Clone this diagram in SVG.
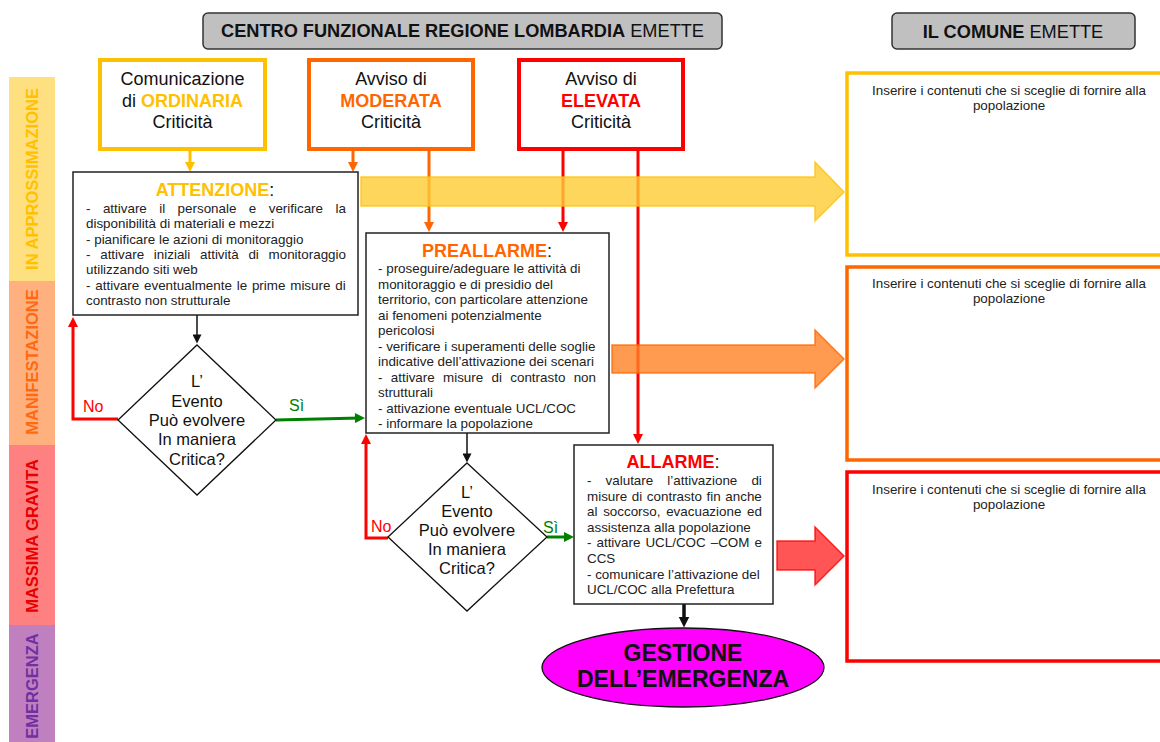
<svg xmlns="http://www.w3.org/2000/svg" width="1160" height="742" viewBox="0 0 1160 742">
<defs>
<style>
text{font-family:"Liberation Sans",Arial,sans-serif;}
.hdr{fill:#C0C0C0;stroke:#333;stroke-width:1.5;}
.ht{font-size:18.2px;fill:#111;}
.b{font-weight:bold;}
.src{fill:#fff;stroke-width:4;}
.st{font-size:18px;text-anchor:middle;}
.box{fill:#fff;stroke:#222;stroke-width:1.5;}
.tt{font-size:18px;font-weight:bold;}
.bd{font-size:13.4px;fill:#222;}
.dia{fill:#fff;stroke:#111;stroke-width:1.3;}
.dt{font-size:16.5px;fill:#111;text-anchor:middle;}
.out{fill:#fff;stroke-width:3.5;}
.ot{font-size:13.4px;fill:#222;text-anchor:middle;}
.band{font-size:16.5px;font-weight:bold;text-anchor:middle;}
.lbl{font-size:16px;}
.ln{fill:none;stroke-width:3;}
</style>
<marker id="mY" viewBox="0 0 10 10" refX="5" refY="5" markerWidth="11" markerHeight="10" markerUnits="userSpaceOnUse" orient="auto"><path d="M0,0 L10,5 L0,10 z" fill="#FFC000"/></marker>
<marker id="mO" viewBox="0 0 10 10" refX="5" refY="5" markerWidth="11" markerHeight="10" markerUnits="userSpaceOnUse" orient="auto"><path d="M0,0 L10,5 L0,10 z" fill="#FF6600"/></marker>
<marker id="mR" viewBox="0 0 10 10" refX="5" refY="5" markerWidth="11" markerHeight="10" markerUnits="userSpaceOnUse" orient="auto"><path d="M0,0 L10,5 L0,10 z" fill="#FF0000"/></marker>
<marker id="mG" viewBox="0 0 10 10" refX="5" refY="5" markerWidth="11" markerHeight="10" markerUnits="userSpaceOnUse" orient="auto"><path d="M0,0 L10,5 L0,10 z" fill="#008000"/></marker>
<marker id="mK" viewBox="0 0 10 10" refX="5" refY="5" markerWidth="10" markerHeight="9" markerUnits="userSpaceOnUse" orient="auto"><path d="M0,0 L10,5 L0,10 z" fill="#111"/></marker>
<marker id="mK2" viewBox="0 0 10 10" refX="5" refY="5" markerWidth="11" markerHeight="12" markerUnits="userSpaceOnUse" orient="auto"><path d="M0,0 L10,5 L0,10 z" fill="#111"/></marker>
</defs>
<rect width="1160" height="742" fill="#fff"/>

<g id="phases">
<rect x="9" y="77" width="46" height="204" fill="#FFE080"/>
<rect x="9" y="281" width="46" height="164" fill="#FFB07F"/>
<rect x="9" y="445" width="46" height="180" fill="#FF8080"/>
<rect x="9" y="625" width="46" height="117" fill="#C080C0"/>
<text class="band" x="38" y="179" transform="rotate(-90 38 179)" fill="#FFC000">IN APPROSSIMAZIONE</text>
<text class="band" x="38" y="362" transform="rotate(-90 38 362)" fill="#FF6A10">MANIFESTAZIONE</text>
<text class="band" x="38" y="536" transform="rotate(-90 38 536)" fill="#E60000">MASSIMA GRAVITA</text>
<text class="band" x="38" y="686" transform="rotate(-90 38 686)" fill="#7030A0">EMERGENZA</text>
</g>

<g id="header-regione">
<rect class="hdr" x="203" y="13" width="519" height="36" rx="5"/>
<text class="ht" x="462.5" y="37" text-anchor="middle"><tspan class="b">CENTRO FUNZIONALE REGIONE LOMBARDIA</tspan> EMETTE</text>
</g>
<g id="header-comune">
<rect class="hdr" x="892" y="13" width="243" height="36" rx="5"/>
<text class="ht" x="1013" y="38" text-anchor="middle"><tspan class="b">IL COMUNE</tspan> EMETTE</text>
</g>

<g id="connectors">
<line class="ln" x1="190" y1="151" x2="190" y2="167" stroke="#FFC000" marker-end="url(#mY)"/>
<line class="ln" x1="353" y1="151" x2="353" y2="167" stroke="#FF6600" marker-end="url(#mO)"/>
<line class="ln" x1="429" y1="151" x2="429" y2="227" stroke="#FF6600" marker-end="url(#mO)"/>
<line class="ln" x1="563" y1="151" x2="563" y2="227" stroke="#FF0000" marker-end="url(#mR)"/>
<line class="ln" x1="638" y1="151" x2="638" y2="439" stroke="#FF0000" marker-end="url(#mR)"/>
<line x1="197" y1="315" x2="197" y2="339" stroke="#111" stroke-width="1.5" marker-end="url(#mK)"/>
<path d="M118,419 H73 V322" class="ln" stroke="#FF0000" stroke-width="2.5" marker-end="url(#mR)"/>
<path d="M276,420 L360,418" class="ln" stroke="#008000" stroke-width="2.5" marker-end="url(#mG)"/>
<line x1="467" y1="433" x2="467" y2="458" stroke="#111" stroke-width="1.5" marker-end="url(#mK)"/>
<path d="M388,538 H366 V439" class="ln" stroke="#FF0000" stroke-width="2.5" marker-end="url(#mR)"/>
<path d="M547,537 L569,537" class="ln" stroke="#008000" stroke-width="2.5" marker-end="url(#mG)"/>
<line x1="684" y1="604" x2="684" y2="622" stroke="#111" stroke-width="3.5" marker-end="url(#mK2)"/>
<text class="lbl" x="83" y="412" fill="#FF0000">No</text>
<text class="lbl" x="289" y="411" fill="#008000">Sì</text>
<text class="lbl" x="371" y="532" fill="#FF0000">No</text>
<text class="lbl" x="543" y="533" fill="#008000">Sì</text>
<path d="M361,177 H815 V162 L844,192 L815,221 V206 H361 Z" fill="#FFCC33" fill-opacity="0.8" stroke="#FFC000" stroke-width="1.5" stroke-opacity="0.8"/>
<path d="M612,345 H815 V330 L844,359 L815,388 V373 H612 Z" fill="#FF8224" fill-opacity="0.8" stroke="#FF6600" stroke-width="1.5" stroke-opacity="0.8"/>
<path d="M777,541 H815 V527 L844,556 L815,585 V570 H777 Z" fill="#FF2A2A" fill-opacity="0.8" stroke="#FF0000" stroke-width="1.5" stroke-opacity="0.8"/>
</g>

<g id="ordinaria">
<rect class="src" x="100" y="60" width="165" height="89" stroke="#FFC000"/>
<text class="st" x="182.5" y="85" fill="#111">Comunicazione</text>
<text class="st" x="182.5" y="107" fill="#111">di <tspan class="b" fill="#FFC000">ORDINARIA</tspan></text>
<text class="st" x="182.5" y="128" fill="#111">Criticità</text>
</g>
<g id="moderata">
<rect class="src" x="309" y="60" width="164" height="89" stroke="#FF6600"/>
<text class="st" x="391" y="85" fill="#111">Avviso di</text>
<text class="st b" x="391" y="107" fill="#FF6600">MODERATA</text>
<text class="st" x="391" y="128" fill="#111">Criticità</text>
</g>
<g id="elevata">
<rect class="src" x="519" y="60" width="164" height="89" stroke="#FF0000"/>
<text class="st" x="601" y="85" fill="#111">Avviso di</text>
<text class="st b" x="601" y="107" fill="#FF0000">ELEVATA</text>
<text class="st" x="601" y="128" fill="#111">Criticità</text>
</g>

<g id="attenzione">
<rect class="box" x="73" y="172" width="285" height="143"/>
<text x="215" y="195.5" text-anchor="middle"><tspan class="tt" fill="#FFC000">ATTENZIONE</tspan><tspan font-size="18px" fill="#111">:</tspan></text>
<text class="bd" x="86" y="213" word-spacing="8.7">- attivare il personale e verificare la</text>
<text class="bd" x="86" y="228">disponibilità di materiali e mezzi</text>
<text class="bd" x="86" y="243.5">- pianificare le azioni di monitoraggio</text>
<text class="bd" x="86" y="259" word-spacing="6">- attivare iniziali attività di monitoraggio</text>
<text class="bd" x="86" y="274">utilizzando siti web</text>
<text class="bd" x="86" y="289.5" word-spacing="1.1">- attivare eventualmente le prime misure di</text>
<text class="bd" x="86" y="304.5">contrasto non strutturale</text>
</g>

<g id="decisione1">
<polygon class="dia" points="197,345 276,420 197,495 118,420"/>
<text class="dt" x="197" y="387">L’</text>
<text class="dt" x="197" y="407">Evento</text>
<text class="dt" x="197" y="426">Può evolvere</text>
<text class="dt" x="197" y="445">In maniera</text>
<text class="dt" x="197" y="465">Critica?</text>
</g>

<g id="preallarme">
<rect class="box" x="366" y="233" width="243" height="200"/>
<text x="487" y="256.5" text-anchor="middle"><tspan class="tt" fill="#FF6600">PREALLARME</tspan><tspan font-size="18px" fill="#111">:</tspan></text>
<text class="bd" x="378" y="273">- proseguire/adeguare le attività di</text>
<text class="bd" x="378" y="288.5">monitoraggio e di presidio del</text>
<text class="bd" x="378" y="304">territorio, con particolare attenzione</text>
<text class="bd" x="378" y="319.5">ai fenomeni potenzialmente</text>
<text class="bd" x="378" y="335">pericolosi</text>
<text class="bd" x="378" y="350.5">- verificare i superamenti delle soglie</text>
<text class="bd" x="378" y="366">indicative dell’attivazione dei scenari</text>
<text class="bd" x="378" y="381.5" word-spacing="4.6">- attivare misure di contrasto non</text>
<text class="bd" x="378" y="397">strutturali</text>
<text class="bd" x="378" y="412.5">- attivazione eventuale UCL/COC</text>
<text class="bd" x="378" y="427.5">- informare la popolazione</text>
</g>

<g id="decisione2">
<polygon class="dia" points="467,463 547,537 467,611 388,537"/>
<text class="dt" x="467" y="498">L’</text>
<text class="dt" x="467" y="517">Evento</text>
<text class="dt" x="467" y="536">Può evolvere</text>
<text class="dt" x="467" y="555">In maniera</text>
<text class="dt" x="467" y="574">Critica?</text>
</g>

<g id="allarme">
<rect class="box" x="574" y="445" width="199" height="159"/>
<text x="673" y="468" text-anchor="middle"><tspan class="tt" fill="#FF0000">ALLARME</tspan><tspan font-size="18px" fill="#111">:</tspan></text>
<text class="bd" x="587" y="485" word-spacing="10.4">- valutare l’attivazione di</text>
<text class="bd" x="587" y="500.5" word-spacing="0.9">misure di contrasto fin anche</text>
<text class="bd" x="587" y="516" word-spacing="2">al soccorso, evacuazione ed</text>
<text class="bd" x="587" y="531.5">assistenza alla popolazione</text>
<text class="bd" x="587" y="547" word-spacing="1.3">- attivare UCL/COC –COM e</text>
<text class="bd" x="587" y="563">CCS</text>
<text class="bd" x="587" y="578.5">- comunicare l’attivazione del</text>
<text class="bd" x="587" y="594">UCL/COC alla Prefettura</text>
</g>

<g id="gestione">
<ellipse cx="683" cy="667.5" rx="141" ry="39.5" fill="#FF00FF" stroke="#111" stroke-width="1.3"/>
<text x="683" y="661" text-anchor="middle" font-size="23px" font-weight="bold" fill="#111">GESTIONE</text>
<text x="683" y="687" text-anchor="middle" font-size="23px" font-weight="bold" fill="#111">DELL’EMERGENZA</text>
</g>

<g id="comune-attenzione">
<rect class="out" x="847" y="73" width="320" height="182" stroke="#FFC000"/>
<text class="ot" x="1009" y="95">Inserire i contenuti che si sceglie di fornire alla</text>
<text class="ot" x="1009" y="110">popolazione</text>
</g>
<g id="comune-preallarme">
<rect class="out" x="847" y="267" width="320" height="193" stroke="#FF6600"/>
<text class="ot" x="1009" y="288">Inserire i contenuti che si sceglie di fornire alla</text>
<text class="ot" x="1009" y="303">popolazione</text>
</g>
<g id="comune-allarme">
<rect class="out" x="847" y="472" width="320" height="189" stroke="#FF0000"/>
<text class="ot" x="1009" y="494">Inserire i contenuti che si sceglie di fornire alla</text>
<text class="ot" x="1009" y="509">popolazione</text>
</g>
</svg>
